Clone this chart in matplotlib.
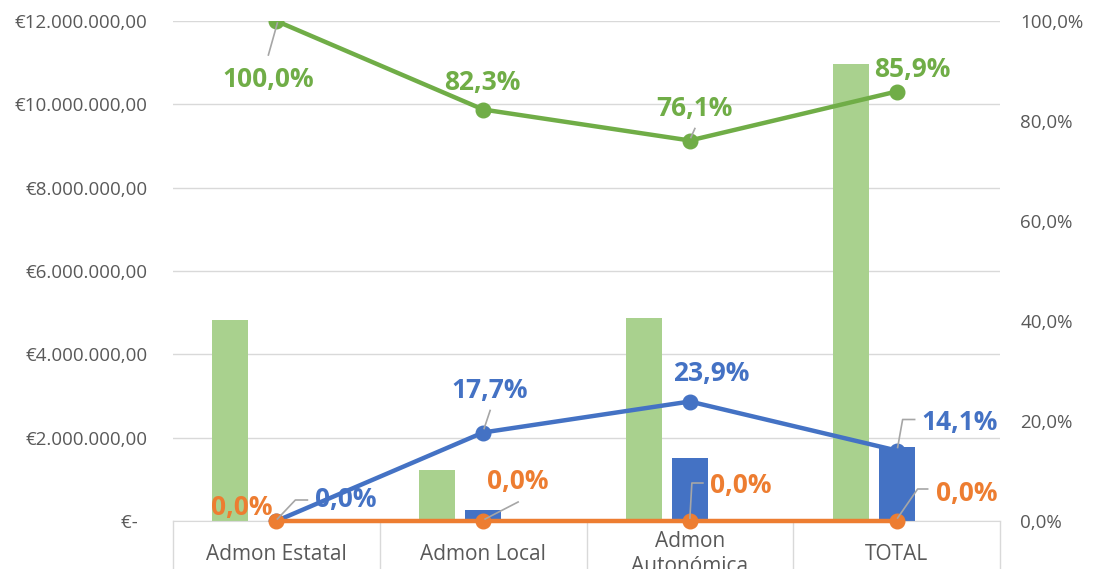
import matplotlib
matplotlib.use('Agg')
import matplotlib.pyplot as plt
from matplotlib.lines import Line2D
from matplotlib.transforms import IdentityTransform, blended_transform_factory
from matplotlib.ticker import FuncFormatter, FixedLocator

# ---------------- data ----------------
categories = ["Admon Estatal", "Admon Local", "Admon\nAutonómica", "TOTAL"]
green_bars = [4820000, 1220000, 4870000, 10970000]
blue_bars = [0, 260000, 1510000, 1780000]
orange_bars = [0, 0, 0, 0]
green_pct = [100.0, 82.3, 76.1, 85.9]
blue_pct = [0.0, 17.7, 23.9, 14.1]
orange_pct = [0.0, 0.0, 0.0, 0.0]
left_ticks = [0, 2000000, 4000000, 6000000, 8000000, 10000000, 12000000]
right_ticks = [0, 20, 40, 60, 80, 100]

# ---------------- style ----------------
plt.rcParams['font.family'] = ['Open Sans', 'DejaVu Sans']
GREEN_BAR = '#a9d18e'
BLUE = '#4472c4'
GREEN = '#70ad47'
ORANGE = '#ed7d31'
GRID = '#d9d9d9'
TXT = '#595959'
LEADER = '#a6a6a6'

W, H = 1098, 569
fig = plt.figure(figsize=(W / 100, H / 100), dpi=100)
ax = fig.add_axes([173 / W, 1 - 521 / H, 827 / W, 500 / H])
ax2 = ax.twinx()

x = list(range(len(categories)))
bw = 0.174
off = 0.222
ax.bar([i - off for i in x], green_bars, width=bw, color=GREEN_BAR, zorder=2)
ax.bar(x, blue_bars, width=bw, color=BLUE, zorder=2)
ax.bar([i + off for i in x], orange_bars, width=bw, color=ORANGE, zorder=2)

ax.set_xlim(-0.5, len(categories) - 0.5)
ax.set_ylim(0, 12000000)
ax.yaxis.set_major_locator(FixedLocator(left_ticks))


def euro(v, pos=None):
    if v == 0:
        return '€-  '
    s = f"{v:,.2f}".replace(',', 'X').replace('.', ',').replace('X', '.')
    return '€' + s


ax.yaxis.set_major_formatter(FuncFormatter(euro))
ax.yaxis.grid(True, color=GRID, lw=1, zorder=0)
ax.set_axisbelow(True)
ax.tick_params(axis='y', length=0, pad=18.5, labelsize=13.5, labelcolor=TXT)
ax.set_xticks([])
for s in ['top', 'right', 'left']:
    ax.spines[s].set_visible(False)
ax.spines['bottom'].set_color(GRID)

# category boxes
bt = blended_transform_factory(ax.transData, ax.transAxes)
for b in [i - 0.5 for i in range(len(categories) + 1)]:
    ax.add_line(Line2D([b, b], [0, -0.2], transform=bt, color=GRID, lw=1, clip_on=False))
for i, c in enumerate(categories):
    ax.text(i, -0.066, c, transform=bt, ha='center', va='center', fontsize=15,
            color=TXT, linespacing=1.25, clip_on=False)

# secondary axis lines
ax2.set_ylim(0, 100)
ax2.yaxis.set_major_locator(FixedLocator(right_ticks))
ax2.yaxis.set_major_formatter(FuncFormatter(lambda v, p: f"{v:.1f}%".replace('.', ',')))
ax2.tick_params(axis='y', length=0, pad=14.5, labelsize=13.5, labelcolor=TXT)
for s in ax2.spines.values():
    s.set_visible(False)

ax2.plot(x, green_pct, color=GREEN, lw=3.2, marker='o', ms=10.5, zorder=3)
ax2.plot(x, blue_pct, color=BLUE, lw=3.2, marker='o', ms=10.5, zorder=3)
ax2.plot(x, orange_pct, color=ORANGE, lw=3.2, marker='o', ms=10.5, zorder=4, clip_on=False)

# labels: (dx, dy) pixel offsets of label centre; leader as list of pixel offsets
green_lab = [((-8, -59), [(-8, -34), (1, -2)]),
             ((-1, 27), None),
             ((5, 32), [(1, 3), (5, 12)]),
             ((16, 22), None)]
blue_lab = [((69, 21), [(1, 2), (19, 21), (31, 21)]),
            ((7, 42), [(1, 4), (7, 22)]),
            ((21, 28), None),
            ((63, 28), [(1, 3), (6, 31), (18, 31)])]
orange_lab = [((-35, 13), None),
              ((35, 39), [(2, 2), (35, 19)]),
              ((51, 36), [(0, 3), (2, 38), (13, 38)]),
              ((70, 28), [(1, 3), (21, 32), (31, 32)])]


def add_labels(vals, labs, color):
    for i, (v, (o, leader)) in enumerate(zip(vals, labs)):
        ax2.annotate(f"{v:.1f}%".replace('.', ','), xy=(i, v), xytext=o,
                     textcoords='offset pixels', ha='center', va='center',
                     fontsize=19, fontweight='bold', color=color, zorder=6,
                     annotation_clip=False)
        if leader:
            px, py = ax2.transData.transform((i, v))
            fig.add_artist(Line2D([px + a for a, b in leader], [py + b for a, b in leader],
                                  transform=IdentityTransform(), color=LEADER, lw=1.2, zorder=5))


add_labels(green_pct, green_lab, GREEN)
add_labels(blue_pct, blue_lab, BLUE)
add_labels(orange_pct, orange_lab, ORANGE)

fig.savefig('out.png', dpi=100)
